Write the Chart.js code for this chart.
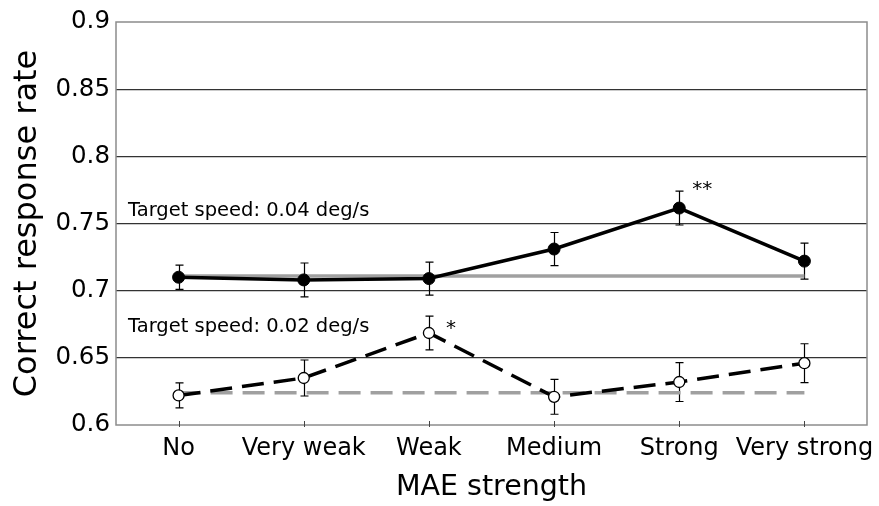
<!DOCTYPE html>
<html><head><meta charset="utf-8">
<script src="https://cdn.jsdelivr.net/npm/chart.js@4/dist/chart.umd.min.js"></script>
<style>html,body{margin:0;padding:0;background:#fff;overflow:hidden}#wrap{width:879px;height:506px}</style>
</head><body><div id="wrap"><canvas id="c" width="879" height="506"></canvas></div>
<script>
const categories = ['No', 'Very weak', 'Weak', 'Medium', 'Strong', 'Very strong'];
const speed004 = [0.710, 0.708, 0.709, 0.731, 0.7615, 0.722];
const speed004Err = [0.009, 0.0126, 0.0123, 0.0123, 0.0126, 0.0134];
const speed002 = [0.622, 0.635, 0.6685, 0.621, 0.632, 0.646];
const speed002Err = [0.0093, 0.0134, 0.0126, 0.013, 0.0145, 0.0145];
const baseline004 = [0.711, 0.711, 0.711, 0.711, 0.711, 0.711];
const baseline002 = [0.624, 0.624, 0.624, 0.624, 0.624, 0.624];
const yTickValues = [0.6, 0.65, 0.7, 0.75, 0.8, 0.85, 0.9];
const yTickLabels = ['0.6', '0.65', '0.7', '0.75', '0.8', '0.85', '0.9'];
const seriesLabels = ['Target speed: 0.04 deg/s', 'Target speed: 0.02 deg/s'];
const seriesLabelY = [0.7555, 0.6692];
const significance = [
  { category: 'Strong', series: 0, mark: '**' },
  { category: 'Weak', series: 1, mark: '*' }
];
const xTitle = 'MAE strength';
const yTitle = 'Correct response rate';

const FONT = '"DejaVu Sans", "Liberation Sans", Arial, sans-serif';
const markOffset = { '**': { dx: 13, dy: -28 }, '*': { dx: 17, dy: -14 } };

const decor = {
  id: 'decor',
  beforeDatasetsDraw(chart) {
    const { ctx, chartArea: a, scales: { x, y } } = chart;
    ctx.save();
    ctx.strokeStyle = '#8c8c8c';
    ctx.lineWidth = 1.5;
    ctx.strokeRect(a.left, a.top, a.right - a.left, a.bottom - a.top);
    ctx.strokeStyle = '#444';
    ctx.lineWidth = 1;
    categories.forEach((c, i) => {
      const px = Math.round(x.getPixelForValue(i)) + 0.5;
      ctx.beginPath(); ctx.moveTo(px, a.bottom - 4); ctx.lineTo(px, a.bottom + 2); ctx.stroke();
    });
    ctx.strokeStyle = '#000';
    ctx.lineWidth = 1.2;
    const drawErr = (vals, errs) => {
      vals.forEach((v, i) => {
        const px = Math.round(x.getPixelForValue(i)) + 0.5;
        const t = y.getPixelForValue(v + errs[i]);
        const b = y.getPixelForValue(v - errs[i]);
        ctx.beginPath();
        ctx.moveTo(px, t); ctx.lineTo(px, b);
        ctx.moveTo(px - 4, t); ctx.lineTo(px + 4, t);
        ctx.moveTo(px - 4, b); ctx.lineTo(px + 4, b);
        ctx.stroke();
      });
    };
    drawErr(speed004, speed004Err);
    drawErr(speed002, speed002Err);
    ctx.restore();
  },
  afterDatasetsDraw(chart) {
    const { ctx, chartArea: a, scales: { x, y } } = chart;
    ctx.save();
    ctx.fillStyle = '#000';
    ctx.font = '19.5px ' + FONT;
    ctx.textAlign = 'left';
    ctx.textBaseline = 'alphabetic';
    seriesLabels.forEach((t, i) => {
      ctx.fillText(t, a.left + 12, y.getPixelForValue(seriesLabelY[i]));
    });
    ctx.font = '20px ' + FONT;
    ctx.textBaseline = 'top';
    significance.forEach(s => {
      const i = categories.indexOf(s.category);
      const vals = s.series === 0 ? speed004 : speed002;
      const o = markOffset[s.mark];
      ctx.fillText(s.mark, x.getPixelForValue(i) + o.dx, y.getPixelForValue(vals[i]) + o.dy);
    });
    ctx.restore();
  }
};

new Chart(document.getElementById('c'), {
  type: 'line',
  data: {
    labels: categories,
    datasets: [
      { label: seriesLabels[0], data: speed004, borderColor: '#000', borderWidth: 3.5,
        pointRadius: 6, pointBackgroundColor: '#000', pointBorderColor: '#000', pointBorderWidth: 1,
        tension: 0, order: 1 },
      { label: seriesLabels[1], data: speed002, borderColor: '#000', borderWidth: 3.5, borderDash: [22, 10],
        pointRadius: 5.5, pointBackgroundColor: '#fff', pointBorderColor: '#000', pointBorderWidth: 1.3,
        tension: 0, order: 2 },
      { label: 'baseline 0.04', data: baseline004, borderColor: '#a0a0a0', borderWidth: 3.5,
        pointRadius: 0, tension: 0, order: 3 },
      { label: 'baseline 0.02', data: baseline002, borderColor: '#a0a0a0', borderWidth: 3.5, borderDash: [22, 10],
        pointRadius: 0, tension: 0, order: 4 }
    ]
  },
  options: {
    responsive: false,
    animation: false,
    devicePixelRatio: 1,
    layout: { padding: { top: 22, right: 12, left: 0, bottom: 0 } },
    plugins: { legend: { display: false }, tooltip: { enabled: false } },
    scales: {
      x: {
        type: 'category',
        offset: true,
        grid: { display: false },
        border: { display: false },
        ticks: { color: '#000', font: { family: FONT, size: 24 }, padding: 1, maxRotation: 0, autoSkip: false },
        title: { display: true, text: xTitle, color: '#000', font: { family: FONT, size: 28.5, lineHeight: 1 }, padding: { top: 0, bottom: 4 } },
        afterFit(s) { s.height = 81; }
      },
      y: {
        min: 0.6, max: 0.9,
        grid: {
          drawTicks: false,
          lineWidth: 1.2,
          color: (c) => (c.tick && (Math.abs(c.tick.value - 0.6) < 1e-6 || Math.abs(c.tick.value - 0.9) < 1e-6)) ? 'rgba(0,0,0,0)' : '#333'
        },
        border: { display: false },
        ticks: {
          stepSize: 0.05, color: '#000', font: { family: FONT, size: 24.5 }, padding: 6,
          callback: (v) => { const i = yTickValues.findIndex(t => Math.abs(t - v) < 1e-6); return i >= 0 ? yTickLabels[i] : ''; }
        },
        title: { display: true, text: yTitle, color: '#000', font: { family: FONT, size: 32, lineHeight: 1 }, padding: { top: 12, bottom: 0 } },
        afterFit(s) { s.width = 116; }
      }
    }
  },
  plugins: [decor]
});
</script></body></html>
